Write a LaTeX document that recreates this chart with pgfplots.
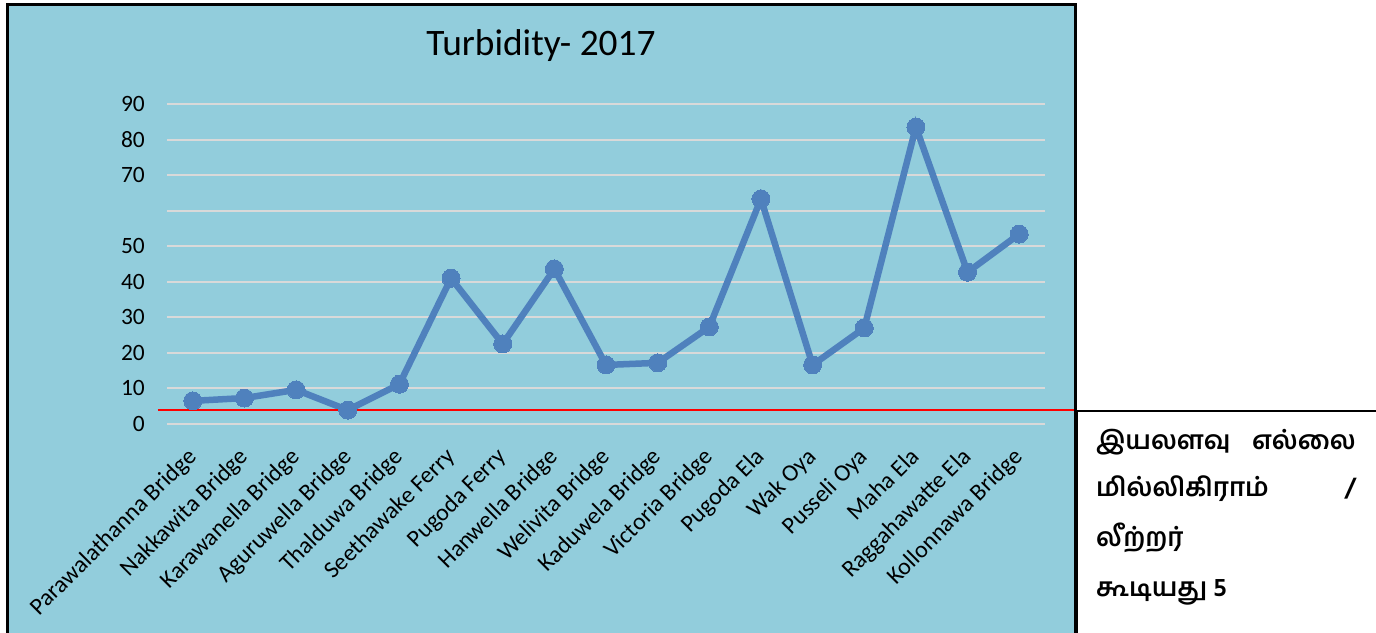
\documentclass[border=0pt]{standalone}
\usepackage{fontspec}
\setmainfont{Carlito}
\newfontfamily\tamil[Script=Tamil]{Hind Madurai}
\usepackage{pgfplots}
\pgfplotsset{compat=1.18}
\definecolor{bgblue}{HTML}{92CDDC}
\definecolor{serblue}{HTML}{4F81BD}
\definecolor{gridgray}{HTML}{D9D9D9}
\begin{document}
\begin{tikzpicture}[x=1bp,y=1bp]
\useasboundingbox (0,0) rectangle (1376,633);
\fill[bgblue] (7,0) rectangle (1075,628);
\draw[black, line width=3bp] (7,-5) -- (7,628) -- (1075,628) -- (1075,-5);
\draw[black, line width=2bp] (1077,-5) -- (1077,222) -- (1380,222);
\node[font=\fontsize{37.5}{44}\selectfont] at (541,587) {Turbidity- 2017};
\begin{axis}[
  at={(167bp,209bp)}, anchor=south west,
  width=878bp, height=320bp, scale only axis,
  xmin=-0.5, xmax=16.5, ymin=0, ymax=90,
  axis line style={draw=none}, tick style={draw=none}, clip=false,
  ytick={0,10,20,30,40,50,60,70,80,90},
  yticklabels={0,10,20,30,40,50,,70,80,90},
  ymajorgrids, major grid style={gridgray, line width=2bp},
  xtick={0,...,16},
  xticklabels={Parawalathanna Bridge,Nakkawita Bridge,Karawanella Bridge,Aguruwella Bridge,Thalduwa Bridge,Seethawake Ferry,Pugoda Ferry,Hanwella Bridge,Welivita Bridge,Kaduwela Bridge,Victoria Bridge,Pugoda Ela,Wak Oya,Pusseli Oya,Maha Ela,Raggahawatte Ela,Kollonnawa Bridge},
  major tick length=0pt,
  /pgf/number format/assume math mode=true,
  yticklabel style={font=\fontsize{23.5}{28}\selectfont, anchor=east, inner sep=0pt, xshift=-22bp},
  xticklabel style={font=\fontsize{24}{28}\selectfont, rotate=45, anchor=north east, inner sep=0pt, xshift=-20.5bp, yshift=-10.5bp},
]
\addplot[serblue, line width=6.5bp, mark=*, mark size=9bp, mark options={fill=serblue, draw=serblue, line width=0pt}] coordinates {
(0,6.5) (1,7.3) (2,9.6) (3,3.9) (4,11.2) (5,41.0) (6,22.5) (7,43.6) (8,16.6) (9,17.2) (10,27.3) (11,63.3) (12,16.6) (13,27.0) (14,83.5) (15,42.7) (16,53.4)
};
\addplot[red, line width=2bp] coordinates {(-0.68,3.8) (17.07,3.8)};
\end{axis}
\begin{scope}[font=\tamil\bfseries\fontsize{26}{31}\selectfont]
\node[anchor=base west, inner sep=0pt] at (1096,183) {இயலளவு};
\node[anchor=base east, inner sep=0pt] at (1356,183) {எல்லை};
\node[anchor=base west, inner sep=0pt] at (1096,136) {மில்லிகிராம்};
\node[anchor=base east, inner sep=0pt] at (1356,136) {/};
\node[anchor=base west, inner sep=0pt] at (1096,86) {லீற்றர்};
\node[anchor=base west, inner sep=0pt] at (1096,36) {கூடியது 5};
\end{scope}
\end{tikzpicture}
\end{document}
